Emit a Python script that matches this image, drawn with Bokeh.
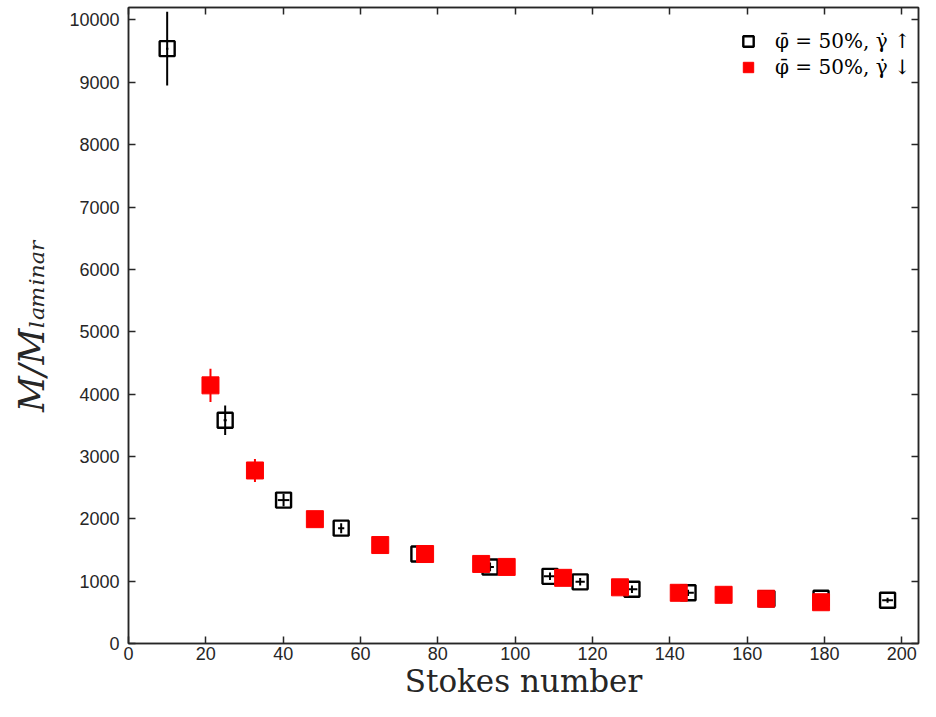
from bokeh.plotting import figure
from bokeh.models import ColumnDataSource, LinearAxis, Legend, LegendItem, FixedTicker
from bokeh.embed import file_html
from bokeh.resources import INLINE

# Data: shear rate increasing (open black squares)
up_x = [10.0, 25.0, 40.1, 55.0, 75.1, 93.5, 109.0, 116.8, 130.2, 144.7, 165.1, 179.1, 196.3]
up_y = [9540, 3580, 2300, 1850, 1435, 1228, 1077, 989, 869, 813, 718, 726, 694]
up_yerr = [590, 235, 100, 80, 60, 70, 60, 60, 60, 50, 40, 40, 40]
up_xerr = [0.3, 0.4, 1.5, 0.8, 0.5, 1.0, 1.6, 1.2, 1.4, 1.5, 1.0, 1.0, 1.4]

# Data: shear rate decreasing (filled red squares)
down_x = [21.2, 32.7, 48.2, 65.1, 76.7, 91.2, 97.8, 112.4, 127.1, 142.3, 153.9, 164.9, 179.1]
down_y = [4140, 2775, 1994, 1579, 1435, 1276, 1228, 1053, 901, 813, 781, 718, 662]
down_yerr = [265, 185, 90, 70, 60, 50, 50, 40, 40, 40, 40, 40, 40]

x_ticks = [0, 20, 40, 60, 80, 100, 120, 140, 160, 180, 200]
y_ticks = [0, 1000, 2000, 3000, 4000, 5000, 6000, 7000, 8000, 9000, 10000]

label_up = "\u03c6\u0304 = 50%, \u03b3\u0307 \u2191"
label_down = "\u03c6\u0304 = 50%, \u03b3\u0307 \u2193"

AX = "#262626"

p = figure(width=920, height=701, x_range=(0, 204.3), y_range=(0, 10200),
           output_backend="svg", toolbar_location=None,
           min_border_left=128, min_border_right=2, min_border_top=7, min_border_bottom=54)
p.xgrid.visible = False
p.ygrid.visible = False
p.outline_line_color = AX
p.outline_line_width = 1.5

for ax in (p.xaxis[0], p.yaxis[0]):
    ax.major_tick_in = 7
    ax.major_tick_out = 0
    ax.minor_tick_line_color = None
    ax.axis_line_color = AX
    ax.axis_line_width = 1.5
    ax.major_tick_line_color = AX
    ax.major_tick_line_width = 1.5
    ax.major_label_text_font = "Liberation Sans"
    ax.major_label_text_font_size = "18px"
    ax.major_label_text_color = AX
p.xaxis[0].ticker = FixedTicker(ticks=x_ticks)
p.yaxis[0].ticker = FixedTicker(ticks=y_ticks)
p.xaxis[0].major_label_standoff = 3
p.yaxis[0].major_label_standoff = 9

p.xaxis[0].axis_label = "Stokes number"
p.xaxis[0].axis_label_text_font = "DejaVu Serif"
p.xaxis[0].axis_label_text_font_style = "normal"
p.xaxis[0].axis_label_text_font_size = "31px"
p.xaxis[0].axis_label_text_color = AX
p.xaxis[0].axis_label_standoff = 0

p.yaxis[0].axis_label = "M/M\u2097\u2090\u2098\u1d62\u2099\u2090\u1d63"
p.yaxis[0].axis_label_text_font = "DejaVu Serif"
p.yaxis[0].axis_label_text_font_style = "italic"
p.yaxis[0].axis_label_text_font_size = "35px"
p.yaxis[0].axis_label_text_color = AX
p.yaxis[0].axis_label_standoff = 14

# top and right box axes with inward ticks, no labels
top = LinearAxis(ticker=FixedTicker(ticks=x_ticks),
                 major_label_overrides={t: "" for t in x_ticks},
                 major_tick_in=7, major_tick_out=0, minor_tick_line_color=None,
                 axis_line_color=AX, axis_line_width=1.5, major_tick_line_color=AX,
                 major_tick_line_width=1.5, major_label_standoff=0)
right = LinearAxis(ticker=FixedTicker(ticks=y_ticks),
                   major_label_overrides={t: "" for t in y_ticks},
                   major_tick_in=7, major_tick_out=0, minor_tick_line_color=None,
                   axis_line_color=AX, axis_line_width=1.5, major_tick_line_color=AX,
                   major_tick_line_width=1.5, major_label_standoff=0)
p.add_layout(top, "above")
p.add_layout(right, "right")

up = ColumnDataSource(dict(
    x=up_x, y=up_y,
    y0=[a - b for a, b in zip(up_y, up_yerr)], y1=[a + b for a, b in zip(up_y, up_yerr)],
    x0=[a - b for a, b in zip(up_x, up_xerr)], x1=[a + b for a, b in zip(up_x, up_xerr)]))
dn = ColumnDataSource(dict(
    x=down_x, y=down_y,
    y0=[a - b for a, b in zip(down_y, down_yerr)], y1=[a + b for a, b in zip(down_y, down_yerr)]))

p.segment(x0="x", y0="y0", x1="x", y1="y1", source=up, line_color="black", line_width=2)
p.segment(x0="x0", y0="y", x1="x1", y1="y", source=up, line_color="black", line_width=2)
r_up = p.scatter("x", "y", source=up, marker="square", size=15, fill_color=None,
                 line_color="black", line_width=2.4)

p.segment(x0="x", y0="y0", x1="x", y1="y1", source=dn, line_color="red", line_width=2)
r_dn = p.scatter("x", "y", source=dn, marker="square", size=17, fill_color="red",
                 line_color="red", line_width=1)

legend = Legend(items=[LegendItem(label=label_up, renderers=[r_up]),
                       LegendItem(label=label_down, renderers=[r_dn])],
                location=(607, 563), border_line_color=None, background_fill_alpha=0,
                label_text_font="DejaVu Serif", label_text_font_size="20px",
                label_text_color="black", glyph_width=26, glyph_height=26,
                label_standoff=14, spacing=0, padding=6, margin=0)
p.add_layout(legend)

open("out.html", "w").write(file_html(p, INLINE))
